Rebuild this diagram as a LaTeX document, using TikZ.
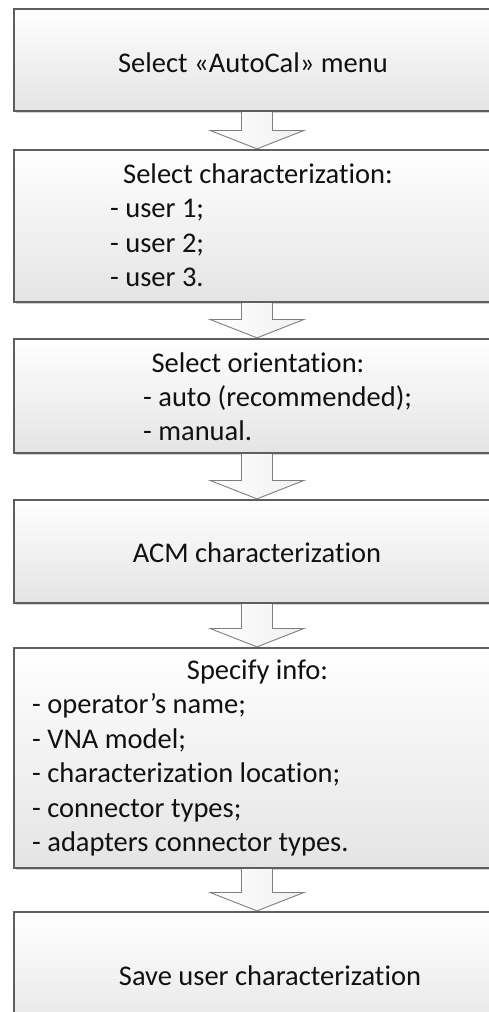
\documentclass[tikz,border=0pt]{standalone}
\usepackage{fontspec}
\setmainfont{Carlito}[RawFeature={-liga;-clig;-calt;-dlig}]
\usetikzlibrary{calc,shadows}
\definecolor{edge}{HTML}{5E5E5E}
\definecolor{boxlow}{HTML}{E4E4E4}
\definecolor{ink}{HTML}{111111}
\tikzset{
  flowbox/.style={draw=edge, line width=1.1pt, rectangle, inner sep=0pt,
    top color=white, bottom color=boxlow, minimum width=486pt,
    drop shadow={shadow xshift=1.5pt, shadow yshift=-2pt, fill=black!30, opacity=0.6}},
  txt/.style={font=\fontsize{28.5}{34.5}\selectfont, text=ink, inner sep=0pt},
  flowarrow/.style={draw=edge!80, line width=0.9pt, left color=white, right color=black!6, line join=miter}
}
\begin{document}
\begin{tikzpicture}[x=1pt,y=-1pt]
\useasboundingbox (0,0) rectangle (488,1012);
% boxes
\node[flowbox, minimum height=102pt] (b1) at (257,60) {};
\node[flowbox, minimum height=152pt] (b2) at (257,226) {};
\node[flowbox, minimum height=114pt] (b3) at (257,396) {};
\node[flowbox, minimum height=103pt] (b4) at (257,551.5) {};
\node[flowbox, minimum height=220pt] (b5) at (257,758) {};
\node[flowbox, minimum height=130pt] (b6) at (257,977) {};
% texts
\node[txt, anchor=base] (t1) at (253,72) {Select «AutoCal» menu};
\node[txt, anchor=base] (t2) at (258,183) {Select characterization:};
\node[txt, anchor=base west] (t2a) at (110,217.5) {- user 1;};
\node[txt, anchor=base west] (t2b) at (110,252) {- user 2;};
\node[txt, anchor=base west] (t2c) at (110,286.5) {- user 3.};
\node[txt, anchor=base] (t3) at (258,372) {Select orientation:};
\node[txt, anchor=base west] (t3a) at (143,406) {- auto (recommended);};
\node[txt, anchor=base west] (t3b) at (143,440) {- manual.};
\node[txt, anchor=base] (t4) at (257,562) {ACM characterization};
\node[txt, anchor=base] (t5) at (257.5,679) {Specify info:};
\node[txt, anchor=base west] (t5a) at (32,713.5) {- operator’s name;};
\node[txt, anchor=base west] (t5b) at (32,748) {- VNA model;};
\node[txt, anchor=base west] (t5c) at (32,782.5) {- characterization location;};
\node[txt, anchor=base west] (t5d) at (32,817) {- connector types;};
\node[txt, anchor=base west] (t5e) at (32,851.5) {- adapters connector types.};
\node[txt, anchor=base] (t6) at (270,985) {Save user characterization};
% block arrows
\foreach \a/\b in {b1/b2, b2/b3, b3/b4, b4/b5, b5/b6}{
  \draw[flowarrow] ($(\a.south)+(-15.5,0.6)$) -- ($(\b.north)+(-15.5,-19)$)
    -- ($(\b.north)+(-47,-19)$) -- ($(\b.north)+(0,-0.6)$) -- ($(\b.north)+(47,-19)$)
    -- ($(\b.north)+(15.5,-19)$) -- ($(\a.south)+(15.5,0.6)$);
}
\end{tikzpicture}
\end{document}
